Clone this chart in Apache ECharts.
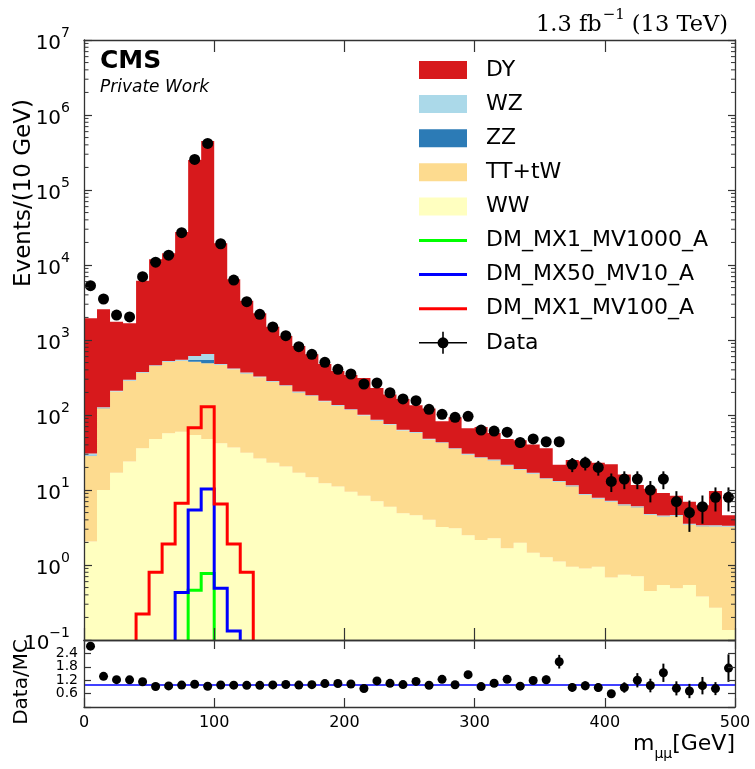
<!DOCTYPE html>
<html>
<head>
<meta charset="utf-8">
<script src="https://cdn.jsdelivr.net/npm/echarts@6.0.0/dist/echarts.min.js"></script>
<style>
  html, body { margin: 0; padding: 0; background: #ffffff; }
  #chart { width: 755px; height: 769px; }
</style>
</head>
<body>
<div id="chart"></div>
<script>
// ---- binning: 10 GeV bins of m_mumu from 0 to 500 GeV ----
const BIN_W = 10;
const binLow = [0, 10, 20, 30, 40, 50, 60, 70, 80, 90,
  100, 110, 120, 130, 140, 150, 160, 170, 180, 190,
  200, 210, 220, 230, 240, 250, 260, 270, 280, 290,
  300, 310, 320, 330, 340, 350, 360, 370, 380, 390,
  400, 410, 420, 430, 440, 450, 460, 470, 480, 490];

// ---- observed events per bin ----
const dataCounts = [5300, 3520, 2150, 2030, 6980, 10900, 13500, 27000, 256000, 418000,
  19200, 6300, 3240, 2200, 1490, 1140, 815, 645, 504, 406,
  352, 259, 267, 198, 164, 155, 119, 102, 93, 96,
  63, 61, 59, 43, 48, 44, 44, 22, 23, 20,
  13, 14, 14, 10, 14, 7, 5, 6, 8, 8];

// ---- background expectations per bin ----
const ww = [2.05, 10.0, 17.0, 23.9, 36, 47.9, 57, 60, 54, 47.9,
  42, 37, 31.5, 26.4, 23.1, 20.5, 17, 14.8, 12.3, 11.1,
  9.5, 8.4, 7.1, 6.0, 4.9, 4.6, 4.0, 3.2, 3.1, 2.5,
  2.15, 2.27, 1.67, 1.98, 1.46, 1.27, 1.11, 0.95, 0.90, 0.95,
  0.68, 0.74, 0.71, 0.45, 0.54, 0.49, 0.54, 0.38, 0.27, 0.136];

const ttTw = [26.4, 113, 188, 263, 330, 402, 452, 470, 460, 441,
  422, 369, 327, 292, 255, 223, 183, 164, 139, 121,
  107, 90, 77, 68, 57, 53, 43, 39, 32, 27,
  24.5, 22.5, 19.4, 16.5, 15.0, 12.7, 11.7, 10.3, 7.7, 6.7,
  6.3, 5.5, 5.2, 4.2, 3.9, 4.0, 2.9, 2.9, 3.0, 3.1];

const zz = [0.3, 0.5, 0.8, 1.0, 1.3, 1.6, 2.0, 3.0, 27, 52,
  3.0, 1.6, 1.2, 1.0, 0.9, 0.8, 0.7, 0.6, 0.5, 0.45,
  0.4, 0.35, 0.3, 0.28, 0.25, 0.22, 0.2, 0.18, 0.16, 0.15,
  0.13, 0.12, 0.11, 0.1, 0.09, 0.08, 0.075, 0.07, 0.065, 0.06,
  0.055, 0.05, 0.045, 0.04, 0.038, 0.035, 0.032, 0.03, 0.028, 0.025];

const wz = [2.0, 3.0, 5, 7, 8, 10, 12, 14, 71, 109,
  11, 9, 8, 7, 6, 5.5, 4.5, 4, 3.5, 3,
  2.7, 2.3, 2, 1.7, 1.45, 1.35, 1.1, 1.0, 0.85, 0.7,
  0.65, 0.6, 0.5, 0.45, 0.4, 0.34, 0.31, 0.27, 0.21, 0.19,
  0.17, 0.15, 0.14, 0.11, 0.11, 0.11, 0.085, 0.08, 0.08, 0.08];

const dy = [1914, 2438, 1544, 1373, 5805, 11438, 13777, 26953, 250388, 449350,
  18972, 6023, 2972, 1944, 1220, 880, 625, 461, 325, 251,
  222, 211, 142, 111, 100, 76, 74, 39, 57, 36,
  41.5, 32, 26, 27, 23.5, 21.6, 8.5, 13.5, 15.3, 15.1,
  14.8, 9.6, 5.6, 5.6, 4.55, 3.75, 3.43, 2.89, 6.34, 1.25];

// ---- dark matter signal hypotheses (unstacked) ----
const sigMX1MV1000 = [0, 0, 0, 0, 0, 0, 0, 0, 0.46, 0.77,
  0, 0, 0, 0, 0, 0, 0, 0, 0, 0, 0, 0, 0, 0, 0, 0, 0, 0, 0, 0,
  0, 0, 0, 0, 0, 0, 0, 0, 0, 0, 0, 0, 0, 0, 0, 0, 0, 0, 0, 0];
const sigMX50MV10 = [0, 0, 0, 0, 0, 0, 0, 0.43, 5.4, 10.3,
  0.49, 0.132, 0, 0, 0, 0, 0, 0, 0, 0, 0, 0, 0, 0, 0, 0, 0, 0, 0, 0,
  0, 0, 0, 0, 0, 0, 0, 0, 0, 0, 0, 0, 0, 0, 0, 0, 0, 0, 0, 0];
const sigMX1MV100 = [0, 0, 0, 0, 0.222, 0.80, 1.9, 6.65, 67.7, 129,
  6.5, 1.9, 0.80, 0, 0, 0, 0, 0, 0, 0, 0, 0, 0, 0, 0, 0, 0, 0, 0, 0,
  0, 0, 0, 0, 0, 0, 0, 0, 0, 0, 0, 0, 0, 0, 0, 0, 0, 0, 0, 0];

// ---- axis tick labels ----
const xTicks = [0, 100, 200, 300, 400, 500];
const ratioTicks = [0.6, 1.2, 1.8, 2.4];

// ---- styling ----
const FONT = '"DejaVu Sans", sans-serif';
const COL = {
  dy: '#d7191c', wz: '#abd9e9', zz: '#2c7bb6', tt: '#fddb8f', ww: '#ffffc0',
  green: '#00ff00', blue: '#0000ff', red: '#ff0000', frame: '#333333'
};
const YMIN = 0.1, YMAX = 1e7;
const FRAME_W = 1.3;

// ---- stacked histogram layers (bottom to top) ----
const layers = [
  { name: 'WW', values: ww, color: COL.ww },
  { name: 'TT+tW', values: ttTw, color: COL.tt },
  { name: 'ZZ', values: zz, color: COL.zz },
  { name: 'WZ', values: wz, color: COL.wz },
  { name: 'DY', values: dy, color: COL.dy }
];
const cumul = binLow.map(() => 0);
const layerData = layers.map(l => binLow.map((lo, i) => {
  const base = cumul[i];
  cumul[i] += l.values[i];
  return [lo, lo + BIN_W, Math.max(base, YMIN), cumul[i]];
}));
const mcTotal = cumul.slice();
const binCenter = binLow.map(lo => lo + BIN_W / 2);

// Each layer is filled as one stepped polygon (upper edge left->right,
// lower edge right->left) so adjacent bins join without seams.
function layerRenderer(bins, color) {
  return function (params, api) {
    if (params.dataIndex !== 0) return null;
    const cs = params.coordSys;
    const yTopLim = cs.y, yBotLim = cs.y + cs.height;
    const clampY = y => Math.min(Math.max(y, yTopLim), yBotLim);
    const pts = [];
    bins.forEach(b => {
      const p0 = api.coord([b[0], b[3]]);
      const p1 = api.coord([b[1], b[3]]);
      pts.push([p0[0], clampY(p0[1])], [p1[0], clampY(p1[1])]);
    });
    for (let i = bins.length - 1; i >= 0; i--) {
      const b = bins[i];
      const p1 = api.coord([b[1], b[2]]);
      const p0 = api.coord([b[0], b[2]]);
      pts.push([p1[0], clampY(p1[1])], [p0[0], clampY(p0[1])]);
    }
    return {
      type: 'polygon',
      shape: { points: pts },
      style: { fill: color, lineWidth: 0 }
    };
  };
}

function errRenderer(params, api) {
  const cs = params.coordSys;
  const x = api.value(0), v = api.value(1), e = api.value(2);
  const lo = Math.max(v - e, 1e-9);
  const p1 = api.coord([x, v + e]);
  const p2 = api.coord([x, lo]);
  const y1 = Math.max(p1[1], cs.y), y2 = Math.min(p2[1], cs.y + cs.height);
  if (!(y2 > y1)) return null;
  return {
    type: 'line',
    shape: { x1: p1[0], y1: y1, x2: p1[0], y2: y2 },
    style: { stroke: '#000', lineWidth: 2 }
  };
}

// step outline of a signal histogram, closed down to the axis floor
function stepLine(values) {
  const pts = [];
  let open = false;
  values.forEach((v, i) => {
    if (v > 0) {
      if (!open) { pts.push([binLow[i], YMIN]); open = true; }
      pts.push([binLow[i], v], [binLow[i] + BIN_W, v]);
    } else if (open) {
      pts.push([binLow[i], YMIN]); open = false;
    }
  });
  if (open) pts.push([binLow[binLow.length - 1] + BIN_W, YMIN]);
  return pts;
}

// minor ticks of the log axis at 2..9 x 10^n
const minorTickVals = [];
for (let d = -1; d < 7; d++) for (let k = 2; k <= 9; k++) minorTickVals.push([0, k * Math.pow(10, d)]);

function minorTickRenderer(params, api) {
  const cs = params.coordSys;
  const p = api.coord([0, api.value(1)]);
  return {
    type: 'group',
    children: [
      { type: 'line', shape: { x1: cs.x, y1: p[1], x2: cs.x + 4.5, y2: p[1] }, style: { stroke: COL.frame, lineWidth: 1 } },
      { type: 'line', shape: { x1: cs.x + cs.width - 4, y1: p[1], x2: cs.x + cs.width, y2: p[1] }, style: { stroke: COL.frame, lineWidth: 1 } }
    ]
  };
}

const mainErr = binCenter.map((x, i) => [x, dataCounts[i], Math.sqrt(dataCounts[i])]);
const ratioPts = binCenter.map((x, i) => [x, dataCounts[i] / mcTotal[i]]);
const ratioErr = binCenter.map((x, i) => [x, dataCounts[i] / mcTotal[i], Math.sqrt(dataCounts[i]) / mcTotal[i]]);

// ---- axes ----
const G0 = { left: 84, top: 40, width: 651, height: 600 };
const G1 = { left: 84, top: 640, width: 651, height: 67 };
const frameLine = { show: true, onZero: false, lineStyle: { color: COL.frame, width: FRAME_W } };

function xAx(grid, pos, tickLen, labels) {
  return {
    type: 'value', gridIndex: grid, position: pos, min: 0, max: 500, interval: 100, z: 10,
    axisLine: frameLine,
    axisTick: { show: true, inside: true, length: tickLen, lineStyle: { color: COL.frame, width: 1.2 } },
    axisLabel: labels ? {
      show: true, color: '#000', fontSize: 16, fontFamily: FONT, margin: 8,
      formatter: v => (xTicks.indexOf(v) >= 0 ? String(v) : '')
    } : { show: false },
    splitLine: { show: false }
  };
}

const logLabel = {
  show: true, margin: 14,
  formatter: v => {
    const e = Math.round(Math.log10(v));
    return '{b|10}{s|' + (e < 0 ? '\u2212' + (-e) : e) + '}';
  },
  rich: {
    b: { fontSize: 20, lineHeight: 27, verticalAlign: 'bottom', fontFamily: FONT, color: '#000' },
    s: { fontSize: 14, lineHeight: 14, verticalAlign: 'top', fontFamily: FONT, color: '#000' }
  }
};

function yLog(pos, tickLen, labels) {
  return {
    type: 'log', logBase: 10, gridIndex: 0, position: pos, min: YMIN, max: YMAX, splitNumber: 8, z: 10,
    axisLine: frameLine,
    axisTick: { show: true, inside: true, length: tickLen, lineStyle: { color: COL.frame, width: 1.2 } },
    axisLabel: labels ? logLabel : { show: false },
    splitLine: { show: false }
  };
}

function yRatio(pos, labels) {
  return {
    type: 'value', gridIndex: 1, position: pos, min: 0, max: 3, interval: 0.6, z: 10,
    axisLine: frameLine,
    axisTick: { show: true, inside: true, length: 7, lineStyle: { color: COL.frame, width: 1.2 } },
    axisLabel: labels ? {
      show: true, color: '#000', fontSize: 14, fontFamily: FONT, margin: 6,
      formatter: v => {
        const s = v.toFixed(1);
        return ratioTicks.some(t => t.toFixed(1) === s) ? s : '';
      }
    } : { show: false },
    splitLine: { show: false }
  };
}

// ---- legend (drawn as graphic items) ----
const legendEntries = [
  { label: 'DY', kind: 'patch', color: COL.dy },
  { label: 'WZ', kind: 'patch', color: COL.wz },
  { label: 'ZZ', kind: 'patch', color: COL.zz },
  { label: 'TT+tW', kind: 'patch', color: COL.tt },
  { label: 'WW', kind: 'patch', color: COL.ww },
  { label: 'DM_MX1_MV1000_A', kind: 'line', color: COL.green },
  { label: 'DM_MX50_MV10_A', kind: 'line', color: COL.blue },
  { label: 'DM_MX1_MV100_A', kind: 'line', color: COL.red },
  { label: 'Data', kind: 'data', color: '#000' }
];
const LEG_X = 419, LEG_W = 48, LEG_Y0 = 70, LEG_DY = 34.1, LEG_TX = 486;
const legendGraphics = [];
legendEntries.forEach((e, i) => {
  const cy = LEG_Y0 + i * LEG_DY;
  if (e.kind === 'patch') {
    legendGraphics.push({ type: 'rect', shape: { x: LEG_X, y: cy - 9, width: LEG_W, height: 18 }, style: { fill: e.color } });
  } else if (e.kind === 'line') {
    legendGraphics.push({ type: 'line', shape: { x1: LEG_X, y1: cy, x2: LEG_X + LEG_W, y2: cy }, style: { stroke: e.color, lineWidth: 3 } });
  } else {
    legendGraphics.push({ type: 'line', shape: { x1: LEG_X, y1: cy, x2: LEG_X + LEG_W, y2: cy }, style: { stroke: '#000', lineWidth: 1.6 } });
    legendGraphics.push({ type: 'line', shape: { x1: LEG_X + LEG_W / 2, y1: cy - 11, x2: LEG_X + LEG_W / 2, y2: cy + 11 }, style: { stroke: '#000', lineWidth: 1.6 } });
    legendGraphics.push({ type: 'circle', shape: { cx: LEG_X + LEG_W / 2, cy: cy, r: 5.5 }, style: { fill: '#000' } });
  }
  legendGraphics.push({
    type: 'text', x: LEG_TX, y: cy,
    style: { text: e.label, font: '22px ' + FONT, fill: '#000', verticalAlign: 'middle', align: 'left' }
  });
});

const textGraphics = [
  { type: 'text', x: 100, y: 61, style: { text: 'CMS', font: 'bold 25px ' + FONT, fill: '#000', verticalAlign: 'middle' } },
  { type: 'text', x: 100, y: 88, style: { text: 'Private Work', font: 'italic 17px ' + FONT, fill: '#000', verticalAlign: 'middle' } },
  {
    type: 'text', x: 728, y: 22,
    style: {
      text: '{n|1.3 fb}{s|\u22121}{n|(13 TeV)}', align: 'right', verticalAlign: 'middle',
      rich: {
        n: { fontFamily: '"DejaVu Serif", serif', fontSize: 22.5, lineHeight: 29, verticalAlign: 'bottom', fill: '#000' },
        s: { fontFamily: '"DejaVu Serif", serif', fontSize: 15, lineHeight: 15, verticalAlign: 'top', fill: '#000', padding: [0, 7, 0, 1] }
      }
    }
  },
  {
    type: 'text', x: 24, y: 193, rotation: Math.PI / 2,
    style: { text: 'Events/(10 GeV)', font: '23px ' + FONT, fill: '#000', align: 'center', verticalAlign: 'middle' }
  },
  {
    type: 'text', x: 22, y: 682, rotation: Math.PI / 2,
    style: { text: 'Data/MC', font: '20px ' + FONT, fill: '#000', align: 'center', verticalAlign: 'middle' }
  },
  {
    type: 'text', x: 735, y: 747,
    style: {
      text: '{m|m}{u|\u03bc\u03bc}{g|[GeV]}', align: 'right', verticalAlign: 'middle',
      rich: {
        m: { fontFamily: FONT, fontSize: 22, lineHeight: 28, verticalAlign: 'top', fill: '#000' },
        u: { fontFamily: FONT, fontSize: 14, lineHeight: 14, verticalAlign: 'bottom', fill: '#000' },
        g: { fontFamily: FONT, fontSize: 22, lineHeight: 28, verticalAlign: 'top', fill: '#000' }
      }
    }
  }
];

// ---- series ----
const series = [];
layers.forEach((l, k) => {
  series.push({
    type: 'custom', name: l.name, xAxisIndex: 0, yAxisIndex: 0, z: 2,
    renderItem: layerRenderer(layerData[k], l.color), encode: { x: [0, 1], y: [2, 3] },
    data: layerData[k], silent: true
  });
});
[[sigMX1MV1000, COL.green, 'DM_MX1_MV1000_A'], [sigMX50MV10, COL.blue, 'DM_MX50_MV10_A'], [sigMX1MV100, COL.red, 'DM_MX1_MV100_A']]
  .forEach(([vals, col, nm]) => {
    series.push({
      type: 'line', name: nm, xAxisIndex: 0, yAxisIndex: 0, z: 4, data: stepLine(vals),
      showSymbol: false, symbol: 'none', clip: true, silent: true,
      lineStyle: { color: col, width: 3, join: 'miter', opacity: 1 }
    });
  });
series.push({
  type: 'custom', name: 'minor', xAxisIndex: 0, yAxisIndex: 0, z: 11, silent: true,
  renderItem: minorTickRenderer, encode: { x: 0, y: 1 }, data: minorTickVals
});
series.push({
  type: 'custom', name: 'DataErr', xAxisIndex: 0, yAxisIndex: 0, z: 5, silent: true,
  renderItem: errRenderer, encode: { x: 0, y: 1 }, data: mainErr
});
series.push({
  type: 'scatter', name: 'Data', xAxisIndex: 0, yAxisIndex: 0, z: 6, silent: true,
  symbol: 'circle', symbolSize: 11, itemStyle: { color: '#000', opacity: 1 },
  data: binCenter.map((x, i) => [x, dataCounts[i]])
});
series.push({
  type: 'custom', name: 'RatioErr', xAxisIndex: 2, yAxisIndex: 2, z: 5, silent: true,
  renderItem: errRenderer, encode: { x: 0, y: 1 }, data: ratioErr
});
series.push({
  type: 'scatter', name: 'Ratio', xAxisIndex: 2, yAxisIndex: 2, z: 6, silent: true,
  symbol: 'circle', symbolSize: 9, itemStyle: { color: '#000', opacity: 1 }, data: ratioPts,
  markLine: {
    silent: true, symbol: 'none', label: { show: false }, animation: false,
    lineStyle: { color: COL.blue, width: 1.6, type: 'solid' }, data: [{ yAxis: 1 }]
  }
});

const chart = echarts.init(document.getElementById('chart'), null, { renderer: 'canvas' });
chart.setOption({
  animation: false,
  backgroundColor: '#ffffff',
  grid: [
    Object.assign({ containLabel: false }, G0),
    Object.assign({ containLabel: false }, G1)
  ],
  xAxis: [xAx(0, 'bottom', 12, false), xAx(0, 'top', 12, false), xAx(1, 'bottom', 9, true), xAx(1, 'top', 9, false)],
  yAxis: [yLog('left', 8, true), yLog('right', 7, false), yRatio('left', true), yRatio('right', false)],
  series: series,
  graphic: legendGraphics.concat(textGraphics)
});
</script>
</body>
</html>
